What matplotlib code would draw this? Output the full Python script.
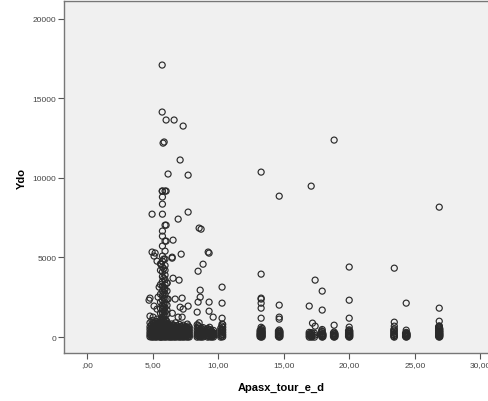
import matplotlib.pyplot as plt
from matplotlib.ticker import FixedLocator

plt.rcParams['font.family'] = ['Liberation Sans', 'DejaVu Sans']

# isolated points (Apasx_tour_e_d, Ydo)
scatter_x = [5.73, 5.73, 6.03, 6.64, 7.33, 5.8, 5.88, 7.1, 6.18, 7.71, 13.28, 14.66, 17.1, 18.85, 26.87,
             6.03, 5.73, 4.96, 6.95, 7.71, 8.55, 8.7, 6.56, 6.03, 6.03, 9.24, 9.31, 7.18, 6.49, 4.96,
             5.11, 5.19, 5.34, 5.65, 6.49, 8.85, 8.47, 7.02, 6.56, 6.1, 5.5, 7.1, 7.33, 7.71, 7.25,
             6.72, 6.18, 5.42, 4.8, 4.73, 4.8, 5.04, 5.34, 5.34, 5.11, 8.63, 8.63, 8.47, 8.4, 9.31,
             9.31, 9.62, 10.3, 10.3, 10.3, 10.3, 6.95, 7.25, 6.5, 5.9,
             13.28, 13.28, 13.28, 13.28, 13.28, 13.28, 14.66, 14.66, 14.66, 16.95, 17.2, 17.4, 17.4,
             17.94, 17.94, 18.85, 20.0, 20.0, 20.0, 20.0, 23.44, 23.44, 23.44, 24.35, 24.35,
             26.87, 26.87, 26.87]
scatter_y = [17080, 14130, 13630, 13630, 13250, 12180, 12250, 11120, 10240, 10170, 10360, 8850, 9480, 12370, 8160,
             9170, 9170, 7720, 7410, 7850, 6845, 6780, 6090, 7030, 6030, 5340, 5275, 5210, 5020, 5340,
             5090, 5280, 4770, 4580, 4960, 4580, 4140, 3580, 3700, 3390, 3140, 1880, 1760, 1950, 2450,
             2390, 2390, 2510, 2450, 2320, 1320, 1256, 1130, 1760, 1950, 2950, 2510, 2200, 1570, 2200,
             1630, 1256, 3140, 2135, 1190, 820, 1256, 1256, 1500, 3050,
             3956, 2450, 2390, 2135, 1820, 1190, 2010, 1256, 1130, 1950, 880, 3580, 690,
             2890, 1700, 750, 4400, 2320, 1190, 630, 4330, 940, 690, 2135, 440,
             1820, 1000, 690]

# the tall column around 5,8
spike_x = [5.6, 5.75, 5.85, 5.95, 6.1]
spike_y = [
    [4600, 4200, 3300, 2700, 2200, 1800, 1500],
    [9170, 8800, 8350, 7720, 6660, 6340, 5720, 5090, 4770, 4400, 4100, 3800, 3500, 3200,
     2900, 2600, 2300, 2000, 1750, 1500, 1250],
    [4900, 4300, 3700, 3150, 2800, 2450, 2150, 1900, 1650, 1400, 1150],
    [9170, 7030, 6030, 5400, 4900, 4500, 4200, 3900, 3600, 3300, 3000, 2700, 2400, 2100,
     1850, 1600, 1350],
    [3400, 2900, 2400, 2000, 1700, 1450],
]

# dense clusters near zero
base_x = [4.8, 4.95, 5.1, 5.25, 5.4, 5.55, 5.7, 5.85, 6.0, 6.15, 6.3, 6.45, 6.6, 6.75, 6.9,
          7.05, 7.2, 7.35, 7.5, 7.65, 7.8, 8.4, 8.55, 8.7, 8.85, 9.2, 9.35, 9.5, 9.65, 10.2, 10.35,
          13.28, 14.66, 16.95, 17.15, 17.35, 17.94, 18.85, 20.0, 23.44, 24.35, 26.87]
base_y = [
    [20, 150, 300, 480, 650, 900],
    [0, 110, 260, 420, 600, 800, 1050],
    [10, 140, 290, 450, 620, 850],
    [0, 90, 230, 400, 560, 760, 980],
    [30, 170, 330, 500, 700, 900],
    [0, 120, 270, 430, 610, 820, 1050],
    [0, 100, 240, 390, 560, 740, 950, 1150],
    [10, 130, 280, 440, 620, 800, 1000],
    [0, 90, 220, 380, 540, 720, 920, 1100],
    [20, 160, 310, 470, 650, 850],
    [0, 110, 250, 410, 580, 780],
    [0, 140, 290, 450, 630, 830],
    [10, 100, 240, 400, 570, 760],
    [0, 130, 280, 440, 620, 900],
    [20, 150, 300, 460, 640],
    [0, 110, 250, 400, 580, 800],
    [10, 140, 290, 450, 620],
    [0, 100, 240, 390, 560, 750],
    [20, 160, 310, 470, 650],
    [0, 120, 260, 420, 600, 820],
    [10, 140, 290, 450, 620],
    [0, 110, 250, 410, 580, 780],
    [20, 150, 300, 460, 650, 900],
    [0, 100, 240, 400, 560],
    [10, 140, 290, 440, 600],
    [0, 110, 250, 400, 540],
    [20, 150, 300, 450, 620],
    [0, 100, 230, 380],
    [10, 130, 270, 420],
    [0, 110, 250, 400, 560],
    [20, 150, 300, 460, 620, 800],
    [0, 70, 150, 250, 350, 480, 620],
    [0, 90, 200, 320, 450],
    [0, 100, 200, 300],
    [0, 60, 160, 280],
    [0, 120, 250],
    [0, 100, 220, 350, 480],
    [0, 90, 200, 320],
    [0, 100, 200, 330, 460],
    [0, 100, 230, 380, 520],
    [0, 80, 180, 300],
    [0, 80, 160, 250, 350, 460, 580, 700],
]

# extra points filling the blob between the columns above
fill_x = [4.88, 5.03, 5.18, 5.33, 5.48, 5.63, 5.78, 5.93, 6.08, 6.23, 6.38, 6.53, 6.68, 6.83,
          6.98, 7.13, 7.28, 7.43, 7.58, 7.73, 8.48, 8.63, 8.78, 9.28, 9.43, 9.58, 10.28,
          13.2, 13.36, 14.6, 14.72, 17.05, 17.9, 18.0, 18.8, 18.92, 19.95, 20.05, 23.4, 24.3, 24.42, 26.82, 26.92]
fill_y = [
    [60, 220, 390, 560, 750],
    [40, 190, 340, 520, 700, 920],
    [70, 210, 380, 540, 720],
    [30, 170, 320, 480, 660, 860],
    [50, 240, 410, 590, 800],
    [20, 190, 350, 520, 700, 900],
    [50, 180, 320, 480, 660, 860, 1050],
    [40, 200, 360, 520, 700, 900],
    [60, 160, 300, 460, 630, 820, 1000],
    [40, 230, 390, 560, 740],
    [60, 180, 340, 500, 680],
    [50, 210, 370, 540, 720],
    [40, 170, 320, 480, 660],
    [60, 210, 360, 530, 720],
    [50, 220, 380, 560],
    [40, 180, 330, 490, 680],
    [60, 210, 370, 540],
    [40, 170, 310, 470, 650],
    [60, 230, 390, 560],
    [40, 190, 340, 510, 700],
    [60, 200, 340, 520, 720],
    [40, 170, 320, 480],
    [60, 210, 370, 520],
    [50, 190, 330, 480],
    [40, 170, 320, 470],
    [50, 170, 300],
    [50, 190, 330, 480, 700],
    [30, 120, 200, 300, 420],
    [20, 110, 210, 300, 400, 550],
    [40, 150, 260, 380],
    [30, 140, 250, 360],
    [40, 140, 240],
    [50, 160, 280, 400],
    [30, 120, 200],
    [40, 140, 260],
    [30, 120, 220],
    [50, 150, 260, 400],
    [30, 140, 250, 380],
    [40, 160, 300, 450],
    [40, 130, 240],
    [30, 120, 220],
    [40, 120, 200, 300, 400, 520, 640],
    [30, 120, 200, 300, 400, 520],
]

x_ticks = [0, 5, 10, 15, 20, 25, 30]
x_labels = [',00', '5,00', '10,00', '15,00', '20,00', '25,00', '30,00']
y_ticks = [0, 5000, 10000, 15000, 20000]

xs = list(scatter_x)
ys = list(scatter_y)
for cx, col in zip(spike_x + base_x + fill_x, spike_y + base_y + fill_y):
    for v in col:
        xs.append(cx)
        ys.append(v)

fig = plt.figure(figsize=(4.89, 4.02), dpi=100)
ax = fig.add_axes([0.131, 0.119, 0.89, 0.876])
ax.set_facecolor('#F0F0F0')

ax.scatter(xs, ys, s=19, facecolors='none', edgecolors='#2a2a2a', linewidths=0.85)

ax.set_xlim(-1.756, 31.45)
ax.set_ylim(-1005, 21100)
ax.xaxis.set_major_locator(FixedLocator(x_ticks))
ax.set_xticklabels(x_labels)
ax.yaxis.set_major_locator(FixedLocator(y_ticks))
ax.set_yticklabels([str(v) for v in y_ticks])

for side in ['left', 'bottom', 'top']:
    ax.spines[side].set_color('#777777')
    ax.spines[side].set_linewidth(1.0)
ax.spines['right'].set_visible(False)

ax.tick_params(direction='out', length=4, width=0.8, color='#555555',
               labelsize=6, labelcolor='#444444', pad=1.5)

ax.set_xlabel('Apasx_tour_e_d', fontsize=8, fontweight='bold', labelpad=10)
ax.set_ylabel('Ydo', fontsize=8, fontweight='bold', labelpad=4)

fig.savefig('out.png', dpi=100)
